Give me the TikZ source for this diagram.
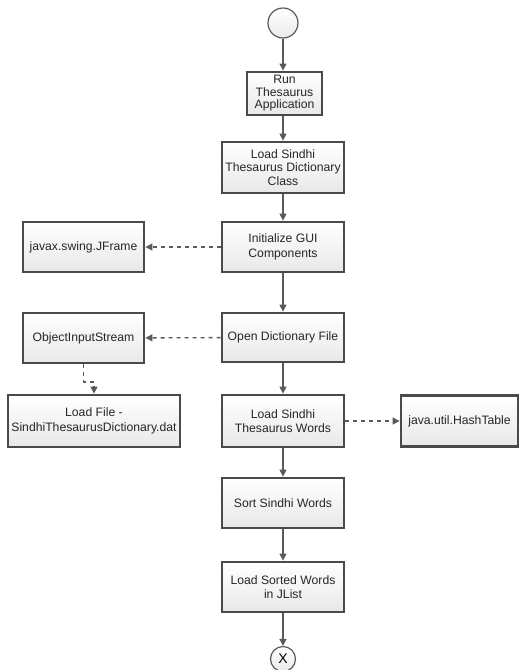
\documentclass[tikz,border=0pt]{standalone}
\usepackage{fontspec}
\setmainfont{Liberation Sans}
\usetikzlibrary{arrows.meta}
\definecolor{boxline}{HTML}{4A4A4A}
\definecolor{arrline}{HTML}{5A5A5A}
\tikzset{
  procbox/.style={draw=boxline, line width=2.8pt, top color=white, bottom color=black!9,
    align=center, inner sep=1pt, font=\fontsize{12.2}{14.5}\selectfont, text=black!85},
  flow/.style={draw=arrline, line width=1.4pt, -{Triangle[length=7pt,width=7pt]}},
  dep/.style={draw=arrline, line width=1.4pt, dash pattern=on 4pt off 4pt, -{Triangle[length=7pt,width=7pt]}},
  termcirc/.style={circle, draw=arrline, line width=1.2pt, top color=white, bottom color=black!8, inner sep=0pt}
}
\begin{document}
\begin{tikzpicture}[x=1pt,y=-1pt]
\useasboundingbox (0,0) rectangle (520,670);
\node[termcirc, minimum size=30pt] (start) at (283,23) {};
\node[procbox, minimum width=75pt, minimum height=43pt, font=\fontsize{12.2}{12.5}\selectfont] (run) at (284.5,93.5) {Run\\Thesaurus\\Application};
\node[procbox, minimum width=122pt, minimum height=51pt, font=\fontsize{12.2}{13.5}\selectfont] (loadcls) at (283,167.5) {Load Sindhi\\Thesaurus Dictionary\\Class};
\node[procbox, minimum width=122pt, minimum height=50pt] (init) at (283,247) {Initialize GUI\\Components};
\node[procbox, minimum width=121pt, minimum height=50pt] (jframe) at (83.5,247) {javax.swing.JFrame};
\node[procbox, minimum width=122pt, minimum height=49pt] (open) at (283,337.5) {Open Dictionary File};
\node[procbox, minimum width=121pt, minimum height=50pt] (ois) at (83.5,338) {ObjectInputStream};
\node[procbox, minimum width=172pt, minimum height=52pt] (lfile) at (94,421) {Load File -\\SindhiThesaurusDictionary.dat};
\node[procbox, minimum width=122pt, minimum height=52pt] (lwords) at (283,421) {Load Sindhi\\Thesaurus Words};
\node[procbox, minimum width=117pt, minimum height=51pt] (hash) at (459.5,421) {java.util.HashTable};
\node[procbox, minimum width=122pt, minimum height=50pt] (sort) at (283,503) {Sort Sindhi Words};
\node[procbox, minimum width=122pt, minimum height=50pt] (jlist) at (283,587) {Load Sorted Words\\in JList};
\node[termcirc, minimum size=25pt, font=\fontsize{14}{14}\selectfont] (end) at (283,659) {X};
\coordinate (e1) at (83.5,382);
\coordinate (e2) at (94,382);
\draw[flow] (start) -- (start |- run.north);
\draw[flow] (start |- run.south) -- (loadcls);
\draw[flow] (loadcls) -- (init);
\draw[flow] (init) -- (open);
\draw[flow] (open) -- (lwords);
\draw[flow] (lwords) -- (sort);
\draw[flow] (sort) -- (jlist);
\draw[flow] (jlist) -- (end);
\draw[dep] (init) -- (jframe);
\draw[dep] (open) -- (ois);
\draw[dep] (lwords) -- (hash);
\draw[dep] (ois.south) -- (e1) -- (e2) -- (lfile.north);
\end{tikzpicture}
\end{document}
